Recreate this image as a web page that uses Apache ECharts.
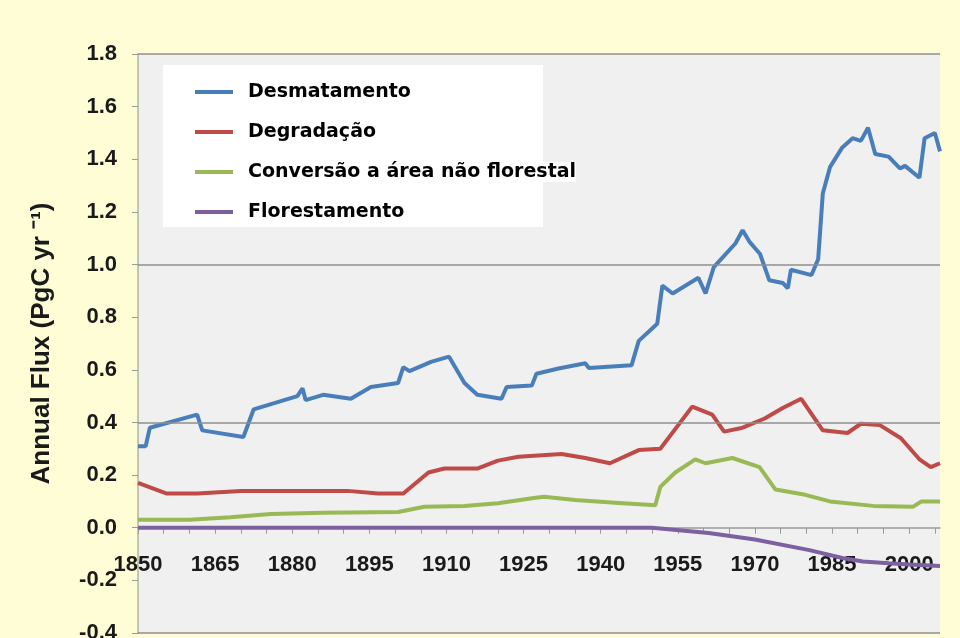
<!DOCTYPE html>
<html>
<head>
<meta charset="utf-8">
<script src="https://cdn.jsdelivr.net/npm/echarts@6/dist/echarts.min.js"></script>
<style>
    html, body { margin: 0; padding: 0; background: #ffffff; }
    #main { width: 960px; height: 638px; }
</style>
</head>
<body>
<div id="main"></div>
<script>
// nomes das séries
const seriesNames = ['Desmatamento', 'Degradação', 'Conversão a área não florestal', 'Florestamento']

// Desmatamento
const desmYears = [1850, 1851.5, 1852.3, 1861.5, 1862.5, 1870.5, 1872.5, 1881, 1882, 1882.6, 1886, 1891.4, 1895.3, 1900.6, 1901.6, 1902.8, 1907, 1910.5, 1913.5, 1916, 1920.7, 1921.7, 1926.6, 1927.5, 1931.8, 1937, 1937.7, 1946, 1947.4, 1951, 1952, 1954, 1959, 1960.4, 1962, 1966.2, 1967.6, 1969, 1971, 1972.8, 1975.4, 1976.4, 1977, 1981, 1982.3, 1983.2, 1984.6, 1987, 1989, 1990.6, 1992, 1993.4, 1996, 1998.2, 1999.2, 2002, 2003, 2005, 2006]
const desmVals = [0.31, 0.31, 0.38, 0.43, 0.37, 0.345, 0.45, 0.50, 0.53, 0.485, 0.505, 0.49, 0.535, 0.55, 0.61, 0.595, 0.63, 0.65, 0.55, 0.505, 0.49, 0.535, 0.54, 0.585, 0.605, 0.625, 0.607, 0.617, 0.71, 0.775, 0.92, 0.89, 0.95, 0.89, 0.99, 1.08, 1.13, 1.085, 1.04, 0.94, 0.93, 0.91, 0.98, 0.96, 1.02, 1.27, 1.37, 1.445, 1.48, 1.47, 1.52, 1.42, 1.41, 1.365, 1.375, 1.33, 1.48, 1.50, 1.43]

// Degradação
const degrYears = [1850, 1855.6, 1861.5, 1870, 1881, 1890.8, 1896.7, 1901.6, 1906.5, 1909.6, 1916, 1920, 1924, 1932.4, 1937, 1941.8, 1947.4, 1951.6, 1957.8, 1961.7, 1964, 1967.6, 1971.9, 1975.4, 1979, 1983.2, 1988, 1990.6, 1994.3, 1998.4, 2002, 2004.2, 2006]
const degrVals = [0.17, 0.13, 0.13, 0.14, 0.14, 0.14, 0.13, 0.13, 0.21, 0.225, 0.225, 0.255, 0.27, 0.28, 0.265, 0.245, 0.295, 0.30, 0.46, 0.43, 0.365, 0.38, 0.415, 0.455, 0.49, 0.37, 0.36, 0.395, 0.39, 0.34, 0.26, 0.23, 0.245]

// Conversão a área não florestal
const convYears = [1850, 1860, 1868, 1875.8, 1886, 1900.6, 1905.7, 1913.5, 1920, 1927, 1929, 1935, 1942.8, 1950.6, 1951.6, 1954.5, 1958.4, 1960.4, 1965.6, 1970.9, 1974, 1979.8, 1984.6, 1993, 2000.8, 2002.4, 2006]
const convVals = [0.03, 0.03, 0.04, 0.052, 0.057, 0.06, 0.08, 0.083, 0.093, 0.113, 0.118, 0.105, 0.095, 0.085, 0.155, 0.21, 0.26, 0.245, 0.265, 0.23, 0.145, 0.125, 0.10, 0.083, 0.08, 0.10, 0.10]

// Florestamento
const florYears = [1850, 1950, 1961, 1970, 1980.6, 1987, 1991, 1996, 2000, 2006]
const florVals = [0, 0, -0.02, -0.045, -0.085, -0.115, -0.128, -0.135, -0.14, -0.145]

// linhas de grade horizontais
const gridLineVals = [1.8, 1.0, 0.4, -0.4]

const colors = ['#4a7ebb', '#be4b48', '#98b954', '#7d60a0']

const pairs = (xs, ys) => xs.map((x, i) => [x, ys[i]])

// eixo x fica na linha do zero: deslocamento a partir da borda de baixo
const gridTop = 54
const gridBottom = 5
const yMin = -0.4
const yMax = 1.8
const plotH = 638 - gridTop - gridBottom
const zeroOffset = -(0 - yMin) / (yMax - yMin) * plotH

var myChart = echarts.init(document.getElementById('main'))

var option = {
    backgroundColor: '#fffdd6',
    color: colors,
    animation: false,
    grid: {
        left: 138,
        right: 20,
        top: gridTop,
        bottom: gridBottom,
        outerBoundsMode: 'none',
        containLabel: false,
        show: true,
        backgroundColor: '#f0f0f0',
        borderWidth: 0
    },
    graphic: [
        {
            type: 'rect',
            shape: { x: 163, y: 65, width: 380, height: 162 },
            style: { fill: '#ffffff' },
            z: 5
        }
    ],
    legend: {
        data: seriesNames,
        orient: 'vertical',
        left: 190,
        top: 77,
        itemWidth: 38,
        itemHeight: 4,
        itemGap: 20,
        icon: 'rect',
        z: 10,
        textStyle: {
            fontFamily: 'DejaVu Sans',
            fontWeight: 'bold',
            fontSize: 19,
            lineHeight: 20,
            color: '#000000',
            padding: [0, 0, 0, 10],
            backgroundColor: '#ffffff'
        }
    },
    xAxis: {
        type: 'value',
        min: 1850,
        max: 2006,
        interval: 5,
        offset: zeroOffset,
        splitLine: { show: false },
        axisLine: { onZero: false, lineStyle: { color: '#9a9a9a', width: 1.5 } },
        axisTick: { show: true, length: 6, lineStyle: { color: '#9a9a9a' } },
        axisLabel: {
            margin: 26,
            showMaxLabel: false,
            fontFamily: 'Liberation Sans',
            fontWeight: 'bold',
            fontSize: 22,
            color: '#1a1a1a',
            formatter: function (v) {
                return (v - 1850) % 15 === 0 ? String(v) : ''
            }
        }
    },
    yAxis: {
        type: 'value',
        min: yMin,
        max: yMax,
        interval: 0.2,
        name: 'Annual Flux (PgC yr \u207B\u00B9)',
        nameLocation: 'middle',
        nameGap: 83,
        nameTextStyle: {
            fontFamily: 'Liberation Sans',
            fontWeight: 'bold',
            fontSize: 26,
            color: '#1a1a1a'
        },
        splitLine: { show: false },
        axisLine: { show: true, onZero: false, lineStyle: { color: '#b5b5a0', width: 1.5 } },
        axisTick: { show: true, length: 6, lineStyle: { color: '#9a9a9a' } },
        axisLabel: {
            margin: 21,
            fontFamily: 'Liberation Sans',
            fontWeight: 'bold',
            fontSize: 22,
            color: '#1a1a1a',
            formatter: function (v) { return v.toFixed(1) }
        }
    },
    series: [
        {
            name: seriesNames[0],
            type: 'line',
            data: pairs(desmYears, desmVals),
            showSymbol: false,
            lineStyle: { width: 4 },
            z: 4,
            markLine: {
                silent: true,
                symbol: 'none',
                label: { show: false },
                lineStyle: { color: '#8f8f8f', width: 1.5, type: 'solid' },
                data: gridLineVals.map(v => ({ yAxis: v }))
            }
        },
        {
            name: seriesNames[1],
            type: 'line',
            data: pairs(degrYears, degrVals),
            showSymbol: false,
            lineStyle: { width: 4 },
            z: 4
        },
        {
            name: seriesNames[2],
            type: 'line',
            data: pairs(convYears, convVals),
            showSymbol: false,
            lineStyle: { width: 4 },
            z: 4
        },
        {
            name: seriesNames[3],
            type: 'line',
            data: pairs(florYears, florVals),
            showSymbol: false,
            lineStyle: { width: 4 },
            z: 4
        }
    ]
}

myChart.setOption(option)
</script>
</body>
</html>
